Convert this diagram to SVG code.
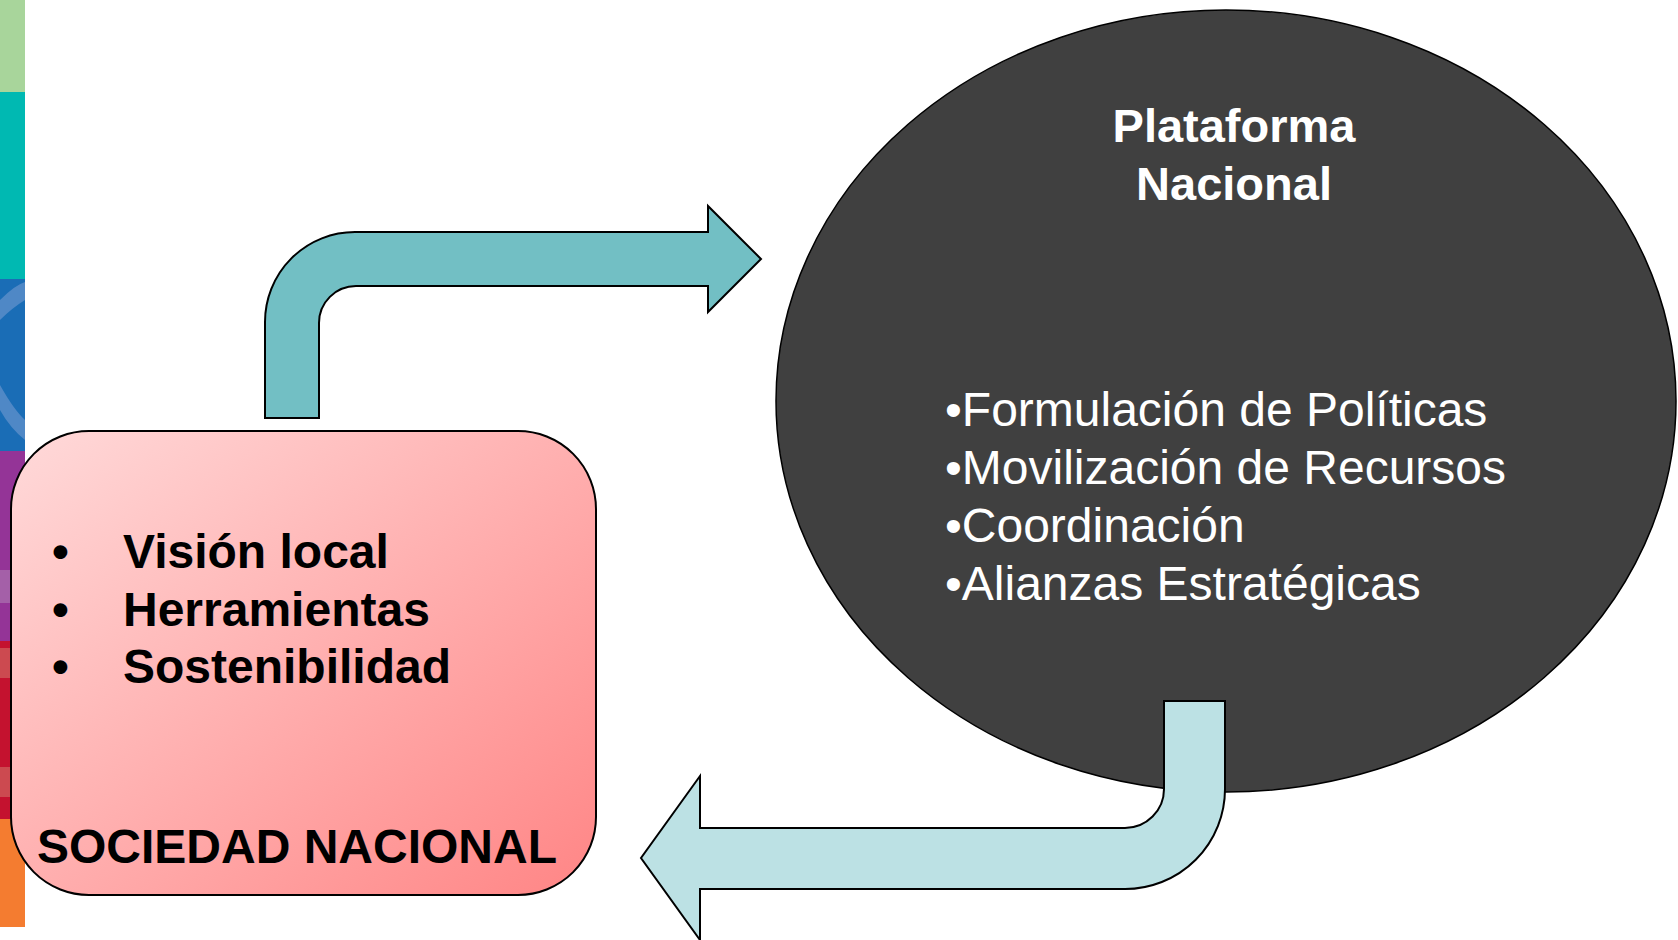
<svg xmlns="http://www.w3.org/2000/svg" width="1678" height="940" viewBox="0 0 1678 940">
<defs>
<linearGradient id="pinkGrad" x1="0" y1="0" x2="1" y2="1">
<stop offset="0" stop-color="#ffdada"/>
<stop offset="1" stop-color="#ff8585"/>
</linearGradient>
<clipPath id="stripClip"><rect x="0" y="0" width="25" height="940"/></clipPath>
</defs>
<style>
.bold{font-family:"Liberation Sans",Arial,sans-serif;font-weight:bold;}
.reg{font-family:"Liberation Sans",Arial,sans-serif;}
.outline{stroke:#000;stroke-width:2;stroke-linejoin:miter;}
</style>
<rect width="1678" height="940" fill="#ffffff"/>
<g id="side-strip" clip-path="url(#stripClip)">
<rect x="0" y="0" width="25" height="92" fill="#a8d59b"/>
<rect x="0" y="92" width="25" height="187" fill="#00b9b2"/>
<rect x="0" y="279" width="25" height="172" fill="#1a6db6"/>
<path d="M0,300 Q15,285 25,282 L25,300 Q12,308 0,320 Z" fill="#4f88c6"/>
<path d="M0,385 Q14,410 25,420 L25,440 Q10,428 0,410 Z" fill="#4f88c6"/>
<rect x="0" y="451" width="25" height="190" fill="#943497"/>
<rect x="0" y="570" width="25" height="33" fill="#a460a8"/>
<rect x="0" y="641" width="25" height="178" fill="#c4122f"/>
<rect x="0" y="648" width="25" height="30" fill="#cc4a50"/>
<rect x="0" y="767" width="25" height="30" fill="#cc4a50"/>
<rect x="0" y="819" width="25" height="108" fill="#f47c30"/>
</g>
<g id="connectors">
<path id="arrow-top" class="outline" fill="#72bfc4" d="M265,418 L265,322 A90,90 0 0 1 355,232 L708,232 L708,206 L761,259 L708,312 L708,286 L356,286 A37,37 0 0 0 319,323 L319,418 Z"/>
</g>
<g id="node-plataforma">
<ellipse cx="1226" cy="401" rx="450" ry="391" fill="#404040" stroke="#000" stroke-width="1.5"/>
<text class="bold" x="1234" y="142" font-size="47" fill="#ffffff" text-anchor="middle">Plataforma</text>
<text class="bold" x="1234" y="200" font-size="47" fill="#ffffff" text-anchor="middle">Nacional</text>
<text class="reg" font-size="48" fill="#ffffff">
<tspan x="945" y="426">•Formulación de Políticas</tspan>
<tspan x="945" y="484">•Movilización de Recursos</tspan>
<tspan x="945" y="542">•Coordinación</tspan>
<tspan x="945" y="600">•Alianzas Estratégicas</tspan>
</text>
</g>
<g id="connectors-2">
<path id="arrow-bottom" class="outline" fill="#bce1e4" d="M1164,701 L1225,701 L1225,789 A100,100 0 0 1 1125,889 L700,889 L700,940 L641,858 L700,776 L700,828 L1125,828 A39,39 0 0 0 1164,789 Z"/>
</g>
<g id="node-sociedad">
<rect x="11" y="431" width="585" height="464" rx="78" ry="78" fill="url(#pinkGrad)" stroke="#000" stroke-width="2"/>
<text class="bold" font-size="48" fill="#000">
<tspan x="52" y="568">•</tspan>
<tspan x="123" y="568">Visión local</tspan>
<tspan x="52" y="626">•</tspan>
<tspan x="123" y="626">Herramientas</tspan>
<tspan x="52" y="683">•</tspan>
<tspan x="123" y="683">Sostenibilidad</tspan>
</text>
<text class="bold" x="37" y="863" font-size="48" fill="#000">SOCIEDAD NACIONAL</text>
</g>
</svg>
